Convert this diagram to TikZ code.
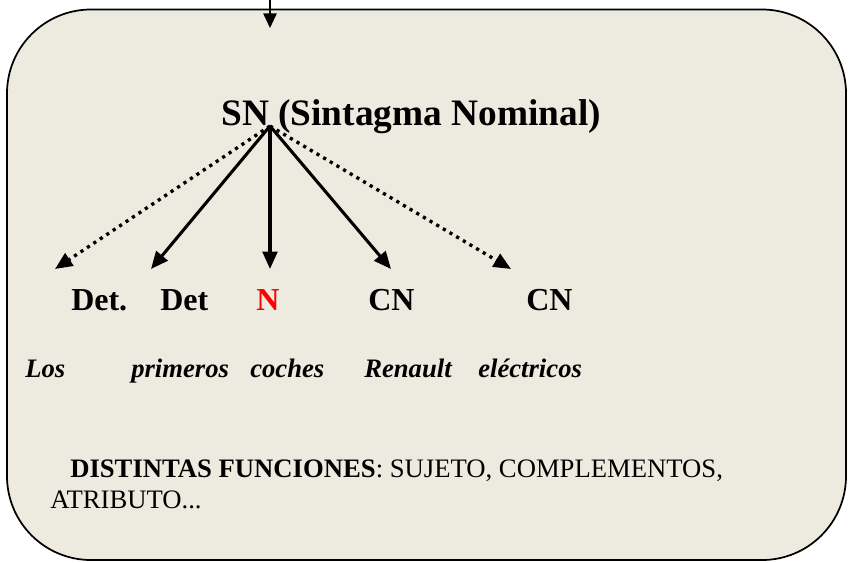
\documentclass[tikz,border=0pt]{standalone}
\usepackage{fontspec}
\setmainfont{Liberation Serif}
\usetikzlibrary{arrows.meta}
\definecolor{boxfill}{RGB}{237,235,224}
\definecolor{nred}{RGB}{255,0,0}
\tikzset{
  panel/.style={draw=black, line width=1.3pt, fill=boxfill, rounded corners=63pt},
  txt/.style={inner sep=0pt, anchor=base west},
  title/.style={txt, font=\fontsize{28}{33}\selectfont\bfseries},
  cat/.style={txt, font=\fontsize{24}{29}\selectfont\bfseries},
  word/.style={txt, font=\fontsize{20}{24}\selectfont\bfseries\itshape},
  note/.style={txt, font=\fontsize{20}{24}\selectfont},
  solidarrow/.style={line width=2.3pt, -{Triangle[length=13pt,width=11pt]}},
  dotarrow/.style={line width=2.5pt, dash pattern=on 2.4pt off 3.4pt, -{Triangle[length=13pt,width=11pt]}},
  toparrow/.style={line width=1.3pt, -{Triangle[length=11pt,width=10pt]}}
}
\begin{document}
\begin{tikzpicture}[x=0.75pt, y=-0.75pt]
\useasboundingbox (0,0) rectangle (848,562);
\draw[panel] (7,9.5) rectangle (846,560);
% top connector
\coordinate (in) at (270,0);
\coordinate (intip) at (270,28);
\draw[toparrow] (in) -- (intip);
% title
\node[title] (sn) at (221,125) {SN (Sintagma Nominal)};
\coordinate (o) at (270,126);
% categories
\node[cat] (det1) at (71,310) {Det.};
\node[cat] (det2) at (160,310) {Det};
\node[cat, text=nred] (n) at (256,310) {N};
\node[cat] (cn1) at (368,310) {CN};
\node[cat] (cn2) at (526,310) {CN};
% arrow tips
\coordinate (t1) at (55,269);
\coordinate (t2) at (151,269);
\coordinate (t3) at (270,269);
\coordinate (t4) at (391,269);
\coordinate (t5) at (511,269);
\draw[dotarrow] (o) -- (t1);
\draw[solidarrow] (o) -- (t2);
\draw[solidarrow] (o) -- (t3);
\draw[solidarrow] (o) -- (t4);
\draw[dotarrow] (o) -- (t5);
% words
\node[word] (w1) at (25,377) {Los};
\node[word] (w2) at (131,377) {primeros};
\node[word] (w3) at (250,377) {coches};
\node[word] (w4) at (364,377) {Renault};
\node[word] (w5) at (478,377) {eléctricos};
% note
\node[note] (l1) at (70,477) {\textbf{DISTINTAS FUNCIONES}: SUJETO, COMPLEMENTOS,};
\node[note] (l2) at (50,508) {ATRIBUTO...};
\end{tikzpicture}
\end{document}
